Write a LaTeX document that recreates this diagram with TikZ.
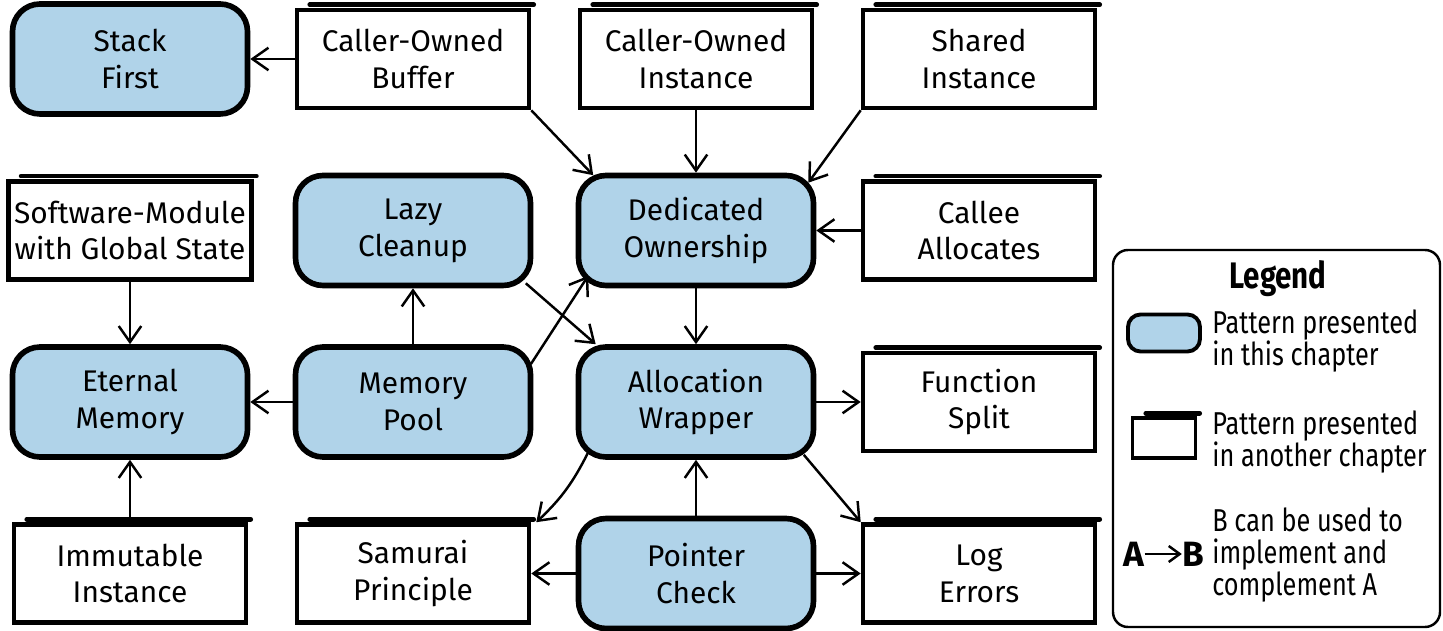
\documentclass[tikz,border=0pt]{standalone}
\usepackage{fontspec}
\setmainfont{Fira Sans}
\newfontfamily\legendfamily[FakeStretch=0.8]{Fira Sans}
\usetikzlibrary{positioning,arrows.meta}

\definecolor{patternblue}{RGB}{176,211,233}
\newcommand{\patternfont}{\fontsize{17}{21}\selectfont}
\newcommand{\legendtext}{\legendfamily\fontsize{18}{18}\selectfont}

\begin{document}
\begin{tikzpicture}[node distance={3.43cm and 5.66cm}, on grid,
    chapter/.style = {draw, line width=3.2pt, fill=patternblue, rounded corners=0.55cm,
        minimum width=4.7cm, minimum height=2.2cm, align=center, font=\patternfont},
    other/.style = {draw, line width=2.6pt, fill=white, minimum width=4.64cm,
        minimum height=1.96cm, align=center, font=\patternfont,
        append after command={([xshift=0.3cm,yshift=0.06cm]\tikzlastnode.north west)
            edge[line width=2.6pt, line cap=round] ([xshift=0.05cm,yshift=0.06cm]\tikzlastnode.north east)}},
    link/.style = {->, >={Straight Barb[length=0.32cm,width=0.45cm]}, line width=1.4pt},
    legendline/.style = {anchor=west, inner sep=0pt, align=left, font=\legendtext}]
    \useasboundingbox (0,0) rectangle (28.86,-12.62);

    % Nodes
    \node[chapter] (stack) at (2.6,-1.18) {Stack\\First};
    \node[other] (buffer) [right=of stack] {Caller-Owned\\Buffer};
    \node[other] (callerinst) [right=of buffer] {Caller-Owned\\Instance};
    \node[other] (shared) [right=of callerinst] {Shared\\Instance};

    \node[other] (module) [below=of stack] {Software-Module\\with Global State};
    \node[chapter] (lazy) [right=of module] {Lazy\\Cleanup};
    \node[chapter] (dedicated) [right=of lazy] {Dedicated\\Ownership};
    \node[other] (callee) [right=of dedicated] {Callee\\Allocates};

    \node[chapter] (eternal) [below=of module] {Eternal\\Memory};
    \node[chapter] (pool) [right=of eternal] {Memory\\Pool};
    \node[chapter] (wrapper) [right=of pool] {Allocation\\Wrapper};
    \node[other] (split) [right=of wrapper] {Function\\Split};

    \node[other] (immutable) [below=of eternal] {Immutable\\Instance};
    \node[other] (samurai) [right=of immutable] {Samurai\\Principle};
    \node[chapter] (pointer) [right=of samurai] {Pointer\\Check};
    \node[other] (logerr) [right=of pointer] {Log\\Errors};

    % Lines
    \draw[link] (buffer) -- (stack);
    \draw[link] (buffer.south east) -- ([xshift=0.35cm,yshift=-0.05cm]dedicated.north west);
    \draw[link] (callerinst) -- (dedicated);
    \draw[link] (shared.south west) -- ([xshift=-0.16cm,yshift=-0.2cm]dedicated.north east);
    \draw[link] (callee) -- (dedicated);
    \draw[link] (dedicated) -- (wrapper);
    \draw[link] ([xshift=-0.15cm,yshift=0.1cm]lazy.south east) -- ([xshift=0.4cm]wrapper.north west);
    \draw[link] ([xshift=-0.05cm,yshift=-0.4cm]pool.north east) -- ([xshift=0.25cm,yshift=0.25cm]dedicated.south west);
    \draw[link] (pool) -- (lazy);
    \draw[link] (pool) -- (eternal);
    \draw[link] (module) -- (eternal);
    \draw[link] (immutable) -- (eternal);
    \draw[link] (wrapper) -- (split);
    \draw[link] ([xshift=-0.25cm,yshift=0.1cm]wrapper.south east) -- (logerr.north west);
    \draw[link] ([xshift=0.25cm,yshift=0.15cm]wrapper.south west) to[bend left=10] ([xshift=0.1cm]samurai.north east);
    \draw[link] (pointer) -- (wrapper);
    \draw[link] (pointer) -- (samurai);
    \draw[link] (pointer) -- (logerr);

    % Legend
    \node[draw, line width=1.4pt, rounded corners=0.3cm, minimum width=6.54cm,
        minimum height=7.54cm] (legend) at (25.53,-8.77) {};
    \node[font=\legendfamily\fontsize{21}{21}\selectfont\bfseries] (legendtitle) at (25.56,-5.58) {Legend};
    \node[chapter, line width=2.2pt, rounded corners=0.25cm, minimum width=1.44cm,
        minimum height=0.74cm] (keychapter) at (23.28,-6.66) {};
    \node[legendline] (keychaptertext) at (24.24,-6.82) {Pattern presented\\in this chapter};
    \node[other, line width=2pt, minimum width=1.26cm, minimum height=0.8cm] (keyother) at (23.28,-8.76) {};
    \node[legendline] (keyothertext) at (24.24,-8.84) {Pattern presented\\in another chapter};
    \node[font=\fontsize{20}{20}\selectfont\bfseries, inner sep=0pt] (keya) at (22.68,-11.08) {A};
    \node[font=\fontsize{20}{20}\selectfont\bfseries, inner sep=0pt] (keyb) at (23.86,-11.08) {B};
    \draw[link, >={Straight Barb[length=0.22cm,width=0.32cm]}] (keya) -- (keyb);
    \node[legendline] (keylinktext) at (24.24,-11.1) {B can be used to\\implement and\\complement A};
\end{tikzpicture}
\end{document}
